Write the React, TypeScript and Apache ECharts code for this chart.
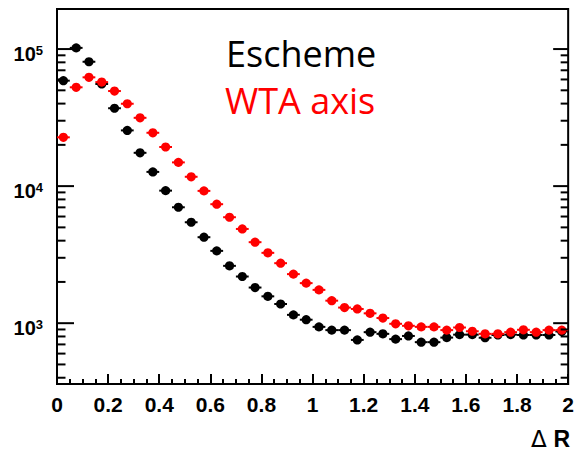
import React, { useEffect, useRef } from "react";
import * as echarts from "echarts";

const binCenters: number[] = [
  0.025, 0.075, 0.125, 0.175, 0.225, 0.275, 0.325, 0.375, 0.425, 0.475,
  0.525, 0.575, 0.625, 0.675, 0.725, 0.775, 0.825, 0.875, 0.925, 0.975,
  1.025, 1.075, 1.125, 1.175, 1.225, 1.275, 1.325, 1.375, 1.425, 1.475,
  1.525, 1.575, 1.625, 1.675, 1.725, 1.775, 1.825, 1.875, 1.925, 1.975,
];
const binHalfWidth = 0.025;

const eschemeValues: number[] = [
  58800, 102000, 80800, 55600, 37000, 25500, 17500, 12700, 9270, 7010,
  5450, 4240, 3370, 2620, 2190, 1820, 1570, 1380, 1150, 1060,
  940, 890, 890, 755, 860, 836, 765, 807, 727, 727,
  785, 825, 825, 783, 820, 825, 820, 820, 820, 870,
];

const wtaValues: number[] = [
  22700, 52600, 62200, 57400, 49400, 39900, 31500, 24500, 19300, 14900,
  11700, 9230, 7380, 5930, 4870, 3900, 3260, 2740, 2280, 1960,
  1750, 1460, 1300, 1270, 1180, 1090, 990, 957, 940, 940,
  890, 930, 873, 836, 836, 860, 895, 860, 890, 890,
];

const majorYTicks: number[] = [1000, 10000, 100000];
const minorYTicks: number[] = [
  400, 500, 600, 700, 800, 900,
  2000, 3000, 4000, 5000, 6000, 7000, 8000, 9000,
  20000, 30000, 40000, 50000, 60000, 70000, 80000, 90000,
];

const yMin = 360;
const yMax = 196000;
const xMin = 0;
const xMax = 2;

const legendLabels = ["Escheme", "WTA axis"];
const xAxisTitle = ["Δ", "R"];

function pointsSeries(values: number[], color: string, name: string) {
  return {
    type: "custom",
    name,
    data: binCenters.map((x, i) => [x, values[i]]),
    clip: false,
    renderItem: (_params: any, api: any) => {
      const x = api.value(0);
      const y = api.value(1);
      const c = api.coord([x, y]);
      const l = api.coord([x - binHalfWidth, y]);
      const r = api.coord([x + binHalfWidth, y]);
      return {
        type: "group",
        children: [
          {
            type: "line",
            shape: { x1: l[0], y1: c[1], x2: r[0], y2: c[1] },
            style: { stroke: color, lineWidth: 2 },
          },
          {
            type: "circle",
            shape: { cx: c[0], cy: c[1], r: 4.6 },
            style: { fill: color },
          },
        ],
      };
    },
  };
}

function tickSeries(values: number[], lenL: number, lenR: number) {
  return {
    type: "custom",
    clip: false,
    silent: true,
    z: 5,
    data: values.map((v) => [xMin, v]),
    renderItem: (_params: any, api: any) => {
      const v = api.value(1);
      const left = api.coord([xMin, v]);
      const right = api.coord([xMax, v]);
      return {
        type: "group",
        children: [
          {
            type: "line",
            shape: { x1: left[0], y1: left[1], x2: left[0] + lenL, y2: left[1] },
            style: { stroke: "#000", lineWidth: 2 },
          },
          {
            type: "line",
            shape: { x1: right[0] - lenR, y1: right[1], x2: right[0], y2: right[1] },
            style: { stroke: "#000", lineWidth: 2 },
          },
        ],
      };
    },
  };
}

export default function App() {
  const ref = useRef<HTMLDivElement>(null);

  useEffect(() => {
    if (!ref.current) return;
    const chart = echarts.init(ref.current, null, { renderer: "svg" });
    const option: any = {
      animation: false,
      backgroundColor: "#ffffff",
      grid: {
        left: 57,
        right: 5,
        top: 9,
        bottom: 67,
        show: true,
        borderColor: "#000",
        borderWidth: 2,
        backgroundColor: "transparent",
      },
      xAxis: {
        type: "value",
        min: xMin,
        max: xMax,
        interval: 0.2,
        axisLine: { show: true, lineStyle: { color: "#000", width: 2 } },
        axisTick: { show: true, inside: true, length: 10, lineStyle: { color: "#000", width: 2 } },
        minorTick: { show: true, splitNumber: 4, length: 5, lineStyle: { color: "#000", width: 2 } },
        splitLine: { show: false },
        axisLabel: {
          color: "#000",
          fontFamily: "Liberation Sans",
          fontWeight: "bold",
          fontSize: 21,
          margin: 10,
          formatter: (v: number) => String(Math.round(v * 10) / 10),
        },
      },
      yAxis: {
        type: "log",
        logBase: 10,
        min: yMin,
        max: yMax,
        axisLine: { show: true, lineStyle: { color: "#000", width: 2 } },
        axisTick: { show: false },
        minorTick: { show: false },
        splitLine: { show: false },
        axisLabel: {
          showMinLabel: false,
          showMaxLabel: false,
          margin: 14,
          padding: [10, 0, 0, 0],
          formatter: (v: number) => {
            const e = Math.log10(v);
            if (Math.abs(e - Math.round(e)) < 1e-6) {
              return `{a|10}{b|${Math.round(e)}}`;
            }
            return "";
          },
          rich: {
            a: {
              fontFamily: "Liberation Sans",
              fontWeight: "bold",
              fontSize: 20,
              lineHeight: 20,
              color: "#000",
              verticalAlign: "bottom",
            },
            b: {
              fontFamily: "Liberation Sans",
              fontWeight: "bold",
              fontSize: 13,
              lineHeight: 11,
              color: "#000",
              verticalAlign: "top",
            },
          },
        },
      },
      series: [
        pointsSeries(eschemeValues, "#000000", legendLabels[0]),
        pointsSeries(wtaValues, "#ff0000", legendLabels[1]),
        tickSeries(majorYTicks, 17, 15),
        tickSeries(minorYTicks, 8.5, 7.5),
      ],
      graphic: [
        {
          type: "text",
          x: 226,
          y: 53,
          style: {
            text: legendLabels[0],
            fontFamily: "Open Sans",
            fontSize: 36,
            fill: "#000",
            verticalAlign: "middle",
            align: "left",
          },
        },
        {
          type: "text",
          x: 225,
          y: 100,
          style: {
            text: legendLabels[1],
            fontFamily: "Open Sans",
            fontSize: 36,
            fill: "#ff0000",
            verticalAlign: "middle",
            align: "left",
          },
        },
        {
          type: "text",
          x: 570,
          y: 439,
          style: {
            text: `{d|${xAxisTitle[0]}}  {r|${xAxisTitle[1]}}`,
            align: "right",
            verticalAlign: "middle",
            rich: {
              d: { fontFamily: "DejaVu Sans", fontSize: 23, lineHeight: 18, fill: "#000" },
              r: { fontFamily: "Liberation Sans", fontWeight: "bold", fontSize: 23, lineHeight: 18, fill: "#000" },
            },
          },
        },
      ],
    };
    chart.setOption(option);
    return () => chart.dispose();
  }, []);

  return (
    <div
      ref={ref}
      style={{ position: "fixed", left: 0, top: 0, width: 577, height: 451, background: "#fff" }}
    />
  );
}
